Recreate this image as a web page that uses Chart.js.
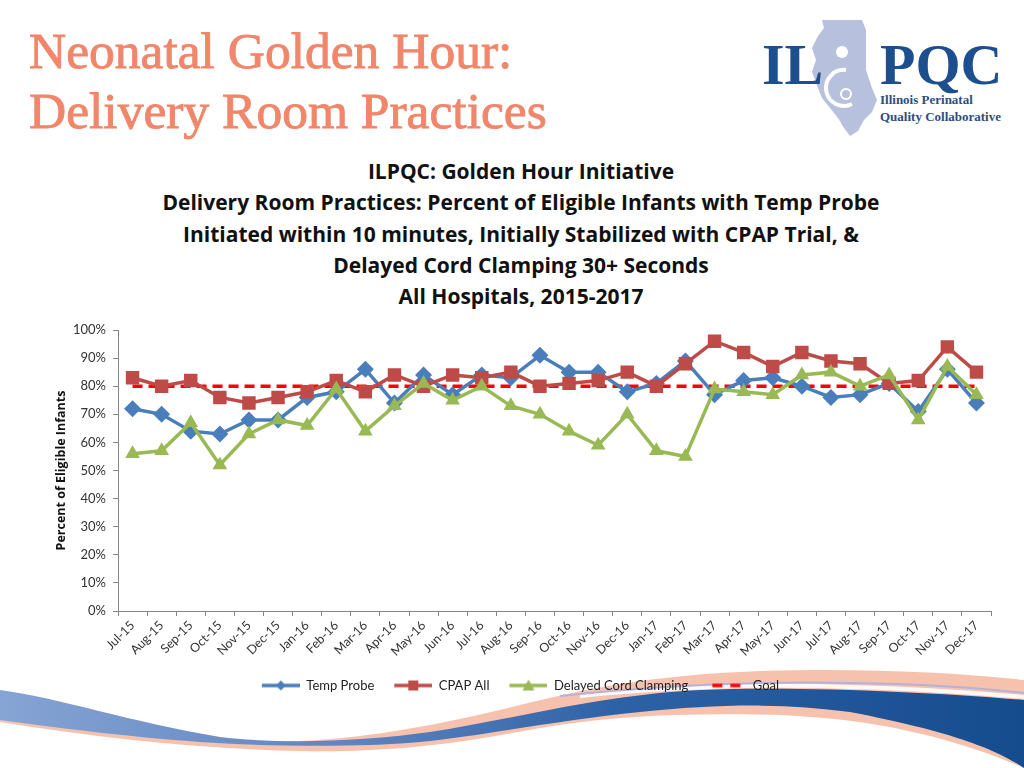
<!DOCTYPE html>
<html>
<head>
<meta charset="utf-8">
<script src="https://cdn.jsdelivr.net/npm/chart.js@4.4.0/dist/chart.umd.min.js"></script>
<style>
  html, body { margin: 0; padding: 0; background: #ffffff; }
  #page { position: relative; width: 1024px; height: 768px; overflow: hidden; background: #ffffff; }
  #deco { position: absolute; left: 0; top: 0; }
  .main-title { position: absolute; left: 29px; top: 21px; font-family: "Liberation Serif", serif; font-size: 51.5px; line-height: 60px; color: #F0866A; -webkit-text-stroke: 0.9px #F0866A; white-space: nowrap; }
  .chart-title { position: absolute; left: 0; width: 1042px; top: 156px; text-align: center; font-family: "Open Sans", Lato, sans-serif; font-weight: bold; font-size: 21px; line-height: 31.3px; color: #111; }
  .logo-big { position: absolute; font-family: "Liberation Serif", serif; font-weight: bold; color: #1D4F8E; font-size: 58px; line-height: 58px; }
  .logo-small { position: absolute; left: 880px; font-family: "Liberation Serif", serif; font-weight: bold; color: #2D4E80; font-size: 13px; line-height: 16px; }
  #chartWrap { position: absolute; left: 0; top: 0; width: 1024px; height: 768px; }
</style>
</head>
<body>
<div id="page">
  <svg id="deco" width="1024" height="768" viewBox="0 0 1024 768">
    <defs>
      <linearGradient id="blueGrad" x1="0" y1="0" x2="1" y2="0">
        <stop offset="0" stop-color="#86A4D4"/>
        <stop offset="0.35" stop-color="#5D83BF"/>
        <stop offset="0.6" stop-color="#2E62A6"/>
        <stop offset="1" stop-color="#154C8E"/>
      </linearGradient>
    </defs>
    <!-- Illinois shape -->
    <polygon points="822,20 862,20 866,30 866,70 872,88 877,100 872,112 864,120 858,131 850,136 844,128 838,118 830,108 822,98 818,88 812,72 816,60 812,48 818,36 824,28" fill="#B7C1DE"/>
    <circle cx="842" cy="52" r="6" fill="#ffffff"/>
    <path d="M846,70 A18,18 0 1 0 852,104" fill="none" stroke="#ffffff" stroke-width="4"/>
    <circle cx="846" cy="94" r="5" fill="none" stroke="#ffffff" stroke-width="2"/>
    <!-- bottom swoosh: salmon band -->
    <path d="M0,722 C100,738 200,749 300,751 C400,753 470,741 540,728 C620,714 700,713 780,715 C880,719 960,740 1024,768 L1024,680 C950,672 860,668 760,671 C650,675 580,690 520,705 C450,722 380,737 300,741 C250,742 200,740 150,735 C100,730 40,720 0,710 Z" fill="#F5BBA5" opacity="0.9"/>
    <!-- blue band -->
    <path d="M0,690 C60,698 130,722 220,737 C280,744 360,742 430,732 C520,718 600,695 700,690 C800,686 930,692 1024,700 L1024,768 C1000,752 960,733 850,712 C780,703 720,704 640,712 C560,720 480,736 420,742 C350,748 260,746 200,742 C120,736 60,728 0,720 Z" fill="url(#blueGrad)"/>
    <!-- white gap and lavender thin line above blue on right -->
    <path d="M580,696 C680,686 780,684 850,687 C930,689 990,694 1024,697" fill="none" stroke="#ffffff" stroke-width="4" opacity="0.9"/>
    <path d="M560,696 C650,686 750,681 850,683 C930,684 990,689 1024,693" fill="none" stroke="#B4B2D8" stroke-width="2"/>
  </svg>

  <div class="main-title">Neonatal Golden Hour:<br>Delivery Room Practices</div>

  <div class="logo-big" style="left:762px; top:36px;">IL</div>
  <div class="logo-big" style="left:880px; top:36px;">PQC</div>
  <div class="logo-small" style="top:92px;">Illinois Perinatal</div>
  <div class="logo-small" style="top:109px;">Quality Collaborative</div>

  <div class="chart-title">ILPQC: Golden Hour Initiative<br>Delivery Room Practices: Percent of Eligible Infants with Temp Probe<br>Initiated within 10 minutes, Initially Stabilized with CPAP Trial, &amp;<br>Delayed Cord Clamping 30+ Seconds<br>All Hospitals, 2015-2017</div>

  <div id="chartWrap"><canvas id="c" width="1024" height="768"></canvas></div>
</div>

<script>
const categories = ['Jul-15','Aug-15','Sep-15','Oct-15','Nov-15','Dec-15','Jan-16','Feb-16','Mar-16','Apr-16','May-16','Jun-16','Jul-16','Aug-16','Sep-16','Oct-16','Nov-16','Dec-16','Jan-17','Feb-17','Mar-17','Apr-17','May-17','Jun-17','Jul-17','Aug-17','Sep-17','Oct-17','Nov-17','Dec-17'];
const tempProbe = [72,70,64,63,68,68,76,78,86,74,84,77,84,83,91,85,85,78,81,89,77,82,83,80,76,77,81,71,86,74];
const cpapAll = [83,80,82,76,74,76,78,82,78,84,80,84,83,85,80,81,82,85,80,88,96,92,87,92,89,88,81,82,94,85];
const delayedCordClamping = [56,57,67,52,63,68,66,79,64,73,81,75,80,73,70,64,59,70,57,55,79,78,77,84,85,80,84,68,87,77];
const goal = [80,80,80,80,80,80,80,80,80,80,80,80,80,80,80,80,80,80,80,80,80,80,80,80,80,80,80,80,80,80];
const yTicks = [0,10,20,30,40,50,60,70,80,90,100];
const seriesNames = ['Temp Probe','CPAP All','Delayed Cord Clamping','Goal'];

const colors = { temp: '#4A7EBB', cpap: '#BE4B48', dcc: '#98B954', goal: '#FF0000' };

function legendIcon(color, marker, dashed) {
  const cv = document.createElement('canvas');
  const m = 10;
  cv.width = 38 + m; cv.height = 16;
  const ctx = cv.getContext('2d');
  ctx.strokeStyle = color; ctx.fillStyle = color; ctx.lineWidth = 3.5;
  if (dashed) {
    ctx.beginPath(); ctx.moveTo(m + 4, 8); ctx.lineTo(m + 14, 8); ctx.moveTo(m + 22, 8); ctx.lineTo(m + 32, 8); ctx.stroke();
  } else {
    ctx.beginPath(); ctx.moveTo(m, 8); ctx.lineTo(m + 38, 8); ctx.stroke();
    const cx = m + 19;
    ctx.beginPath();
    if (marker === 'diamond') { ctx.moveTo(cx, 3); ctx.lineTo(cx + 5, 8); ctx.lineTo(cx, 13); ctx.lineTo(cx - 5, 8); }
    else if (marker === 'square') { ctx.rect(cx - 5, 3, 10, 10); }
    else if (marker === 'triangle') { ctx.moveTo(cx, 2); ctx.lineTo(cx + 6, 13); ctx.lineTo(cx - 6, 13); }
    ctx.closePath(); ctx.fill();
  }
  return cv;
}
const icons = [legendIcon(colors.temp,'diamond'), legendIcon(colors.cpap,'square'), legendIcon(colors.dcc,'triangle'), legendIcon(colors.goal,null,true)];

const chart = new Chart(document.getElementById('c'), {
  type: 'line',
  data: {
    labels: categories,
    datasets: [
      { label: seriesNames[0], data: tempProbe, borderColor: colors.temp, backgroundColor: colors.temp, borderWidth: 3.5, pointStyle: 'rectRot', pointRadius: 8.5, pointHoverRadius: 8.5, pointBorderWidth: 0, tension: 0, order: 4 },
      { label: seriesNames[1], data: cpapAll, borderColor: colors.cpap, backgroundColor: colors.cpap, borderWidth: 3.5, pointStyle: 'rect', pointRadius: 9.5, pointHoverRadius: 9.5, pointBorderWidth: 0, tension: 0, order: 3 },
      { label: seriesNames[2], data: delayedCordClamping, borderColor: colors.dcc, backgroundColor: colors.dcc, borderWidth: 3.5, pointStyle: 'triangle', pointRadius: 8.5, pointHoverRadius: 8.5, pointBorderWidth: 0, tension: 0, order: 2 },
      { label: seriesNames[3], data: goal, borderColor: colors.goal, backgroundColor: colors.goal, borderWidth: 3.5, borderDash: [10, 6], pointRadius: 0, pointHoverRadius: 0, tension: 0, order: 5 }
    ]
  },
  options: {
    responsive: false,
    animation: false,
    layout: { padding: { top: 330, left: 40, right: 33, bottom: 66 } },
    plugins: {
      title: { display: false },
      tooltip: { enabled: false },
      legend: {
        position: 'bottom',
        labels: {
          usePointStyle: true,
          pointStyleWidth: 48,
          padding: 10,
          color: '#222',
          font: { family: 'Lato, "Open Sans", sans-serif', size: 13 },
          generateLabels: (ch) => ch.data.datasets.map((ds, i) => ({
            text: ds.label, pointStyle: icons[i], fillStyle: ds.borderColor, strokeStyle: ds.borderColor,
            lineWidth: 0, hidden: false, datasetIndex: i, fontColor: '#222'
          }))
        }
      }
    },
    scales: {
      x: {
        offset: true,
        grid: { offset: true, drawOnChartArea: false, drawTicks: true, tickLength: 5, color: '#868686' },
        border: { display: true, color: '#868686', width: 1 },
        ticks: { autoSkip: false, maxRotation: 45, minRotation: 45, padding: 2, color: '#333', font: { family: 'Lato, "Open Sans", sans-serif', size: 12.5 } },
        afterFit: (s) => { s.height = 58; }
      },
      y: {
        min: 0, max: 100,
        afterBuildTicks: (s) => { s.ticks = yTicks.map(v => ({ value: v })); },
        grid: { drawOnChartArea: false, drawTicks: true, tickLength: 5, color: '#868686' },
        border: { display: true, color: '#868686', width: 1 },
        ticks: { padding: 7, color: '#333', font: { family: 'Lato, "Open Sans", sans-serif', size: 13 }, callback: (v) => v + '%' },
        title: { display: true, text: 'Percent of Eligible Infants', color: '#111', padding: { top: 14, bottom: 0 }, font: { family: '"Open Sans", Lato, sans-serif', size: 12.5, weight: 'bold' } },
        afterFit: (s) => { s.width = 78; }
      }
    }
  }
});
</script>
</body>
</html>
